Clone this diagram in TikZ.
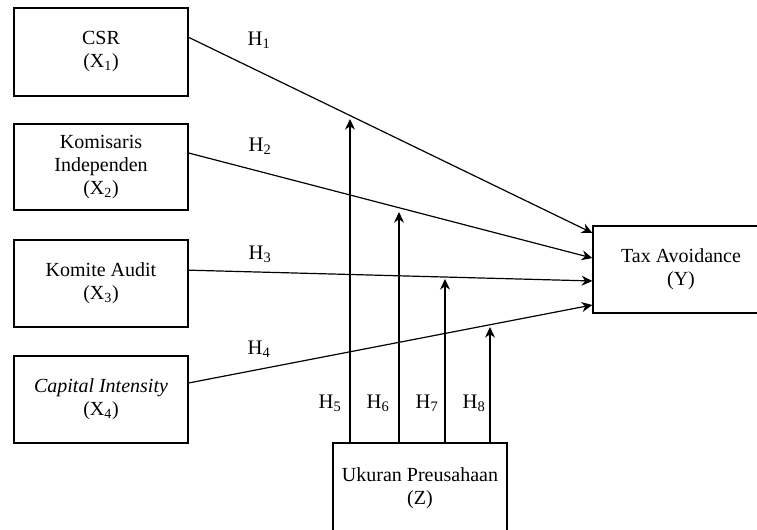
\documentclass[tikz,border=0pt]{standalone}
\usepackage{fontspec}
\setmainfont{Liberation Serif}
\usetikzlibrary{arrows.meta,positioning,calc}

\begin{document}
\begin{tikzpicture}[x=0.75pt, y=-0.75pt, >={Stealth[length=8pt,width=7.5pt]},
  varbox/.style={draw, line width=1pt, align=center, inner sep=0pt,
    minimum width=130.5pt, font=\fontsize{15}{17.25}\selectfont},
  hlabel/.style={font=\fontsize{15.5}{17.25}\selectfont, inner sep=0pt},
  path/.style={->, line width=0.9pt}]

  \useasboundingbox (0,0) rectangle (757,529);
  \clip (0,0) rectangle (757,529);

  % Define variable boxes
  \node[varbox, minimum height=66pt] (csr) at (101, 52) {CSR\\(X\textsubscript{1})};
  \node[varbox, minimum height=64.5pt] (kom) at (101, 167) {Komisaris\\Independen\\(X\textsubscript{2})};
  \node[varbox, minimum height=65.25pt] (audit) at (101, 283.5) {Komite Audit\\(X\textsubscript{3})};
  \node[varbox, minimum height=65.25pt] (cap) at (101, 399.5) {\textit{Capital Intensity}\\(X\textsubscript{4})};
  \node[varbox, minimum width=132pt, minimum height=65.25pt] (tax) at (681, 269.5) {Tax Avoidance\\(Y)};
  \node[varbox, minimum height=67.5pt] (size) at (420, 488) {Ukuran Preusahaan\\(Z)};

  % Arrow tips of the moderating paths
  \coordinate (m5) at (350, 119);
  \coordinate (m6) at (399, 212);
  \coordinate (m7) at (445, 279);
  \coordinate (m8) at (490, 327);

  % Direct paths
  \draw[path] ([yshift=11pt]csr.east) to ([yshift=27.4pt]tax.west);
  \draw[path] ([yshift=10.5pt]kom.east) to ([yshift=8.6pt]tax.west);
  \draw[path] ([yshift=10pt]audit.east) to ([yshift=-8.6pt]tax.west);
  \draw[path] ([yshift=12.4pt]cap.east) to ([yshift=-26.6pt]tax.west);

  % Moderating paths
  \draw[path] (m5 |- size.north) to (m5);
  \draw[path] (m6 |- size.north) to (m6);
  \draw[path] (m7 |- size.north) to (m7);
  \draw[path] (m8 |- size.north) to (m8);

  % Hypothesis labels
  \node[hlabel] (h1) at (259, 40) {H\textsubscript{1}};
  \node[hlabel] (h2) at (260, 146) {H\textsubscript{2}};
  \node[hlabel] (h3) at (260, 254) {H\textsubscript{3}};
  \node[hlabel] (h4) at (259, 349) {H\textsubscript{4}};
  \node[hlabel] (h5) at (330, 403) {H\textsubscript{5}};
  \node[hlabel] (h6) at (378, 403) {H\textsubscript{6}};
  \node[hlabel] (h7) at (427, 403) {H\textsubscript{7}};
  \node[hlabel] (h8) at (474, 403) {H\textsubscript{8}};

\end{tikzpicture}
\end{document}
